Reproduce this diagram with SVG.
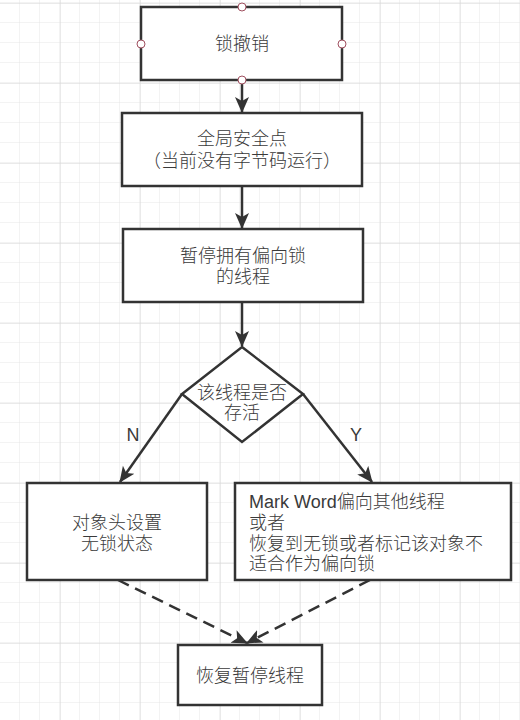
<svg xmlns="http://www.w3.org/2000/svg" width="520" height="720" viewBox="0 0 520 720">
<defs>
<pattern id="minor" width="20" height="20" patternUnits="userSpaceOnUse" x="0" y="3">
<path d="M20 0V20M0 20H20" fill="none" stroke="#e6e6e6" stroke-width="1"/>
</pattern>
<pattern id="major" width="80" height="80" patternUnits="userSpaceOnUse" x="60" y="3">
<path d="M0 0V80M0 0H80" fill="none" stroke="#d6d6d6" stroke-width="1"/>
</pattern>
<marker id="arr" markerUnits="userSpaceOnUse" markerWidth="16" markerHeight="16" viewBox="0 0 16 14" refX="15" refY="7" orient="auto">
<path d="M0 0L16 7L0 14L4 7Z" fill="#333"/>
</marker>
<style>
.box{fill:#fff;stroke:#333;stroke-width:2.5}
.t{font-family:"Liberation Sans","Noto Sans CJK SC",sans-serif;font-size:18px;font-weight:300;fill:#3a3a3a}
.c{text-anchor:middle}
.e{fill:none;stroke:#333;stroke-width:2.5}
.d{stroke-dasharray:12 7}
.pt{fill:#fff;stroke:#a05060;stroke-width:1}
</style>
</defs>
<rect width="520" height="720" fill="#fff"/>
<rect width="520" height="720" fill="url(#minor)"/>
<rect width="520" height="720" fill="url(#major)"/>

<g id="connectors">
<path class="e" d="M242 80V112" marker-end="url(#arr)"/>
<path class="e" d="M242 186V228" marker-end="url(#arr)"/>
<path class="e" d="M242 302V346" marker-end="url(#arr)"/>
<path class="e" d="M182 394L120 482" marker-end="url(#arr)"/>
<path class="e" d="M303 394L372 482" marker-end="url(#arr)"/>
<path class="e d" d="M118 580L247 643" marker-end="url(#arr)"/>
<path class="e d" d="M370 580L247 643" marker-end="url(#arr)"/>
<text class="t c" x="133" y="441">N</text>
<text class="t c" x="356" y="441">Y</text>
</g>

<g id="n1">
<rect class="box" x="141" y="7" width="201" height="73"/>
<text class="t c" x="242" y="50">锁撤销</text>
<circle class="pt" cx="242" cy="7" r="4"/>
<circle class="pt" cx="141" cy="44" r="4"/>
<circle class="pt" cx="342" cy="44" r="4"/>
<circle class="pt" cx="242" cy="80" r="4"/>
</g>

<g id="n2">
<rect class="box" x="122" y="113" width="240" height="73"/>
<text class="t c" x="242" y="145">全局安全点</text>
<text class="t c" x="242" y="167">（当前没有字节码运行）</text>
</g>

<g id="n3">
<rect class="box" x="123" y="229" width="240" height="73"/>
<text class="t c" x="243" y="262">暂停拥有偏向锁</text>
<text class="t c" x="243" y="283">的线程</text>
</g>

<g id="n4">
<path class="box" d="M242 347L303 394L242 442L182 394Z"/>
<text class="t c" x="242" y="399">该线程是否</text>
<text class="t c" x="242" y="419">存活</text>
</g>

<g id="n5">
<rect class="box" x="27" y="483" width="180" height="97"/>
<text class="t c" x="117" y="529">对象头设置</text>
<text class="t c" x="117" y="550">无锁状态</text>
</g>

<g id="n6">
<rect class="box" x="235" y="483" width="276" height="97"/>
<text class="t" x="249" y="508">Mark Word偏向其他线程</text>
<text class="t" x="249" y="529">或者</text>
<text class="t" x="249" y="550">恢复到无锁或者标记该对象不</text>
<text class="t" x="249" y="570">适合作为偏向锁</text>
</g>

<g id="n7">
<rect class="box" x="178" y="645" width="144" height="60"/>
<text class="t c" x="250" y="682">恢复暂停线程</text>
</g>
</svg>
